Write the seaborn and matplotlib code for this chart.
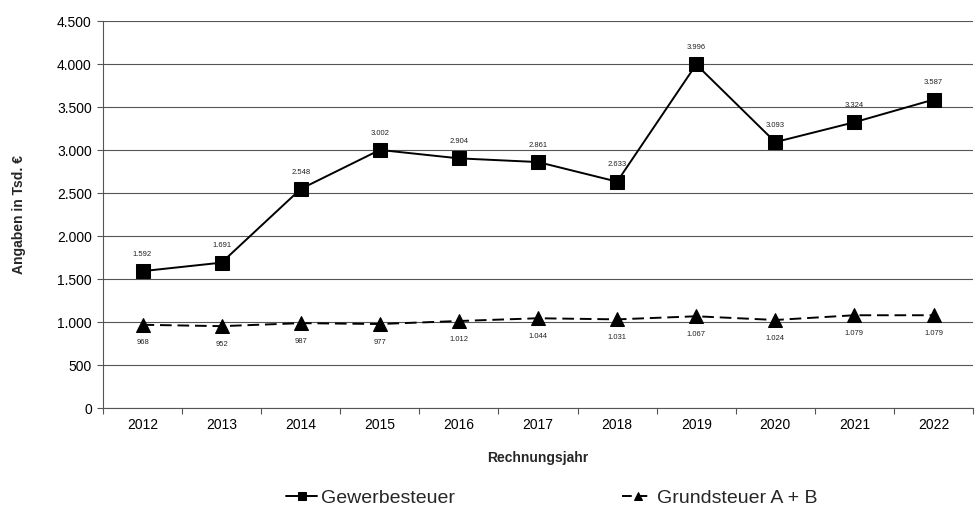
import matplotlib
matplotlib.use("Agg")
import matplotlib.pyplot as plt
from matplotlib.ticker import FuncFormatter, MultipleLocator, FixedLocator
import seaborn as sns
import pandas as pd

# Steuereinnahmen der Gemeinde (Tsd. €)
jahre = ["2012", "2013", "2014", "2015", "2016", "2017", "2018", "2019", "2020", "2021", "2022"]
gewerbesteuer = [1592, 1691, 2548, 3002, 2904, 2861, 2633, 3996, 3093, 3324, 3587]
grundsteuer = [968, 952, 987, 977, 1012, 1044, 1031, 1067, 1024, 1079, 1079]

sns.set_theme(style="white")
plt.rcParams["font.family"] = ["Liberation Sans", "DejaVu Sans"]

df = pd.DataFrame({
    "pos": list(range(len(jahre))),
    "Gewerbesteuer": gewerbesteuer,
    "Grundsteuer A + B": grundsteuer,
})

fig = plt.figure(figsize=(9.75, 5.16), dpi=100)
ax = fig.add_axes([0.1056, 0.2093, 0.8924, 0.7497])

sns.lineplot(data=df, x="pos", y="Gewerbesteuer", ax=ax, color="black",
             linewidth=1.4, marker="s", markersize=10, markeredgecolor="black",
             label="Gewerbesteuer", legend=False)
sns.lineplot(data=df, x="pos", y="Grundsteuer A + B", ax=ax, color="black",
             linewidth=1.4, marker="^", markersize=10, markeredgecolor="black",
             linestyle=(0, (6, 3)), label="Grundsteuer A + B", legend=False)

fmt = lambda v: f"{v:,.0f}".replace(",", ".")

for i, v in enumerate(gewerbesteuer):
    ax.annotate(fmt(v), (i, v), xytext=(0, 12), textcoords="offset points",
                ha="center", va="center", fontsize=5.5, color="#222222")
for i, v in enumerate(grundsteuer):
    ax.annotate(fmt(v), (i, v), xytext=(0, -13), textcoords="offset points",
                ha="center", va="center", fontsize=5.5, color="#222222")

ax.set_xlim(-0.5, len(jahre) - 0.5)
ax.set_ylim(0, 4500)
ax.yaxis.set_major_locator(MultipleLocator(500))
ax.yaxis.set_major_formatter(FuncFormatter(lambda v, p: fmt(v)))
ax.set_xticks(range(len(jahre)))
ax.set_xticklabels(jahre)
ax.xaxis.set_minor_locator(FixedLocator([i - 0.5 for i in range(len(jahre) + 1)]))

ax.tick_params(axis="x", which="major", length=0, pad=7, labelsize=10, colors="black")
ax.tick_params(axis="x", which="minor", length=4, width=0.8, color="#555555", bottom=True)
ax.tick_params(axis="y", which="major", length=4, width=0.8, color="#555555",
               left=True, pad=4, labelsize=10, labelcolor="black")

# horizontal grid; the line at the upper limit is only faintly visible
ax.grid(axis="y", color="#555555", linewidth=0.8)
ygrid = ax.yaxis.get_gridlines()
ygrid[-1].set_color("#eeeeee")
ax.set_axisbelow(True)
for side in ["top", "right"]:
    ax.spines[side].set_visible(False)
for side in ["left", "bottom"]:
    ax.spines[side].set_color("#555555")
    ax.spines[side].set_linewidth(0.8)

ax.set_xlabel("Rechnungsjahr", fontsize=10, fontweight="bold", labelpad=14)
ax.set_ylabel("Angaben in Tsd. €", fontsize=10, fontweight="bold", labelpad=22)

handles, labels = ax.get_legend_handles_labels()
leg = fig.legend(handles, labels, loc="center", bbox_to_anchor=(0.566, 0.035), ncol=2,
                 frameon=False, fontsize=14, handlelength=1.6, handletextpad=0.2,
                 columnspacing=8.6, markerscale=0.6)
leg.get_lines()[1].set_dashes([5, 3])

fig.savefig("out.png", dpi=100)
